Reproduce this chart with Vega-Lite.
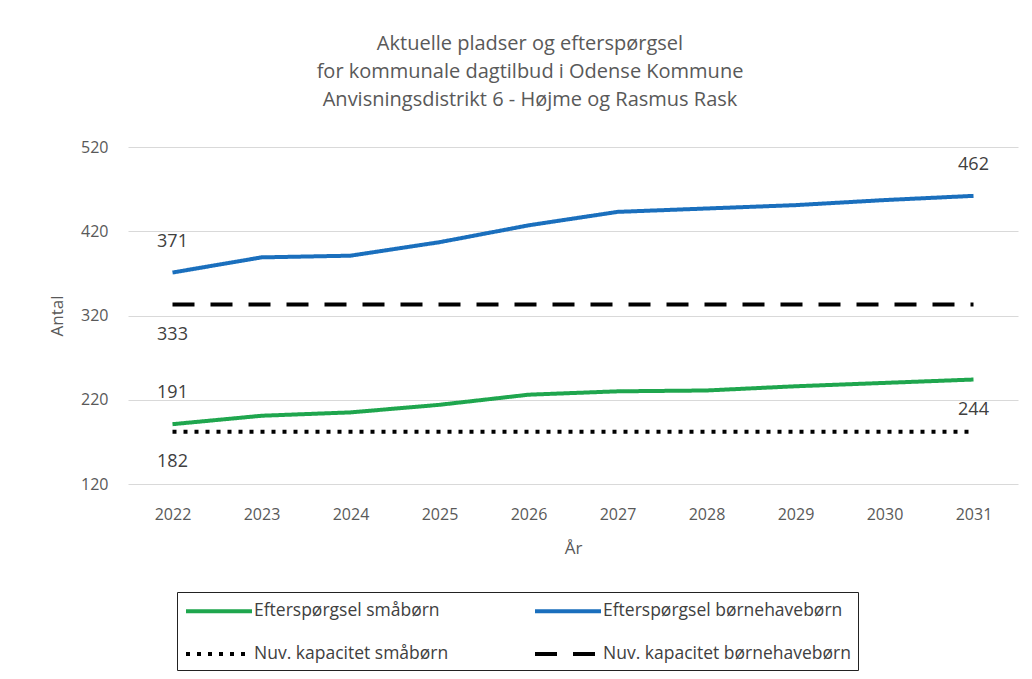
{
  "$schema": "https://vega.github.io/schema/vega-lite/v6.json",
  "width": 890,
  "height": 337,
  "autosize": "none",
  "padding": {"left": 128, "top": 147, "right": 14, "bottom": 195},
  "background": "white",
  "config": {"font": "Open Sans", "view": {"stroke": null}},
  "title": {
    "text": ["Aktuelle pladser og efterspørgsel", "for kommunale dagtilbud i Odense Kommune", "Anvisningsdistrikt 6 - Højme og Rasmus Rask"],
    "fontSize": 20, "fontWeight": "normal", "color": "#595959", "lineHeight": 28,
    "offset": 29, "dx": -43, "anchor": "middle"
  },
  "data": {"values": [
    {"year": 2022, "series": "Efterspørgsel børnehavebørn", "value": 371},
    {"year": 2023, "series": "Efterspørgsel børnehavebørn", "value": 389},
    {"year": 2024, "series": "Efterspørgsel børnehavebørn", "value": 391},
    {"year": 2025, "series": "Efterspørgsel børnehavebørn", "value": 407},
    {"year": 2026, "series": "Efterspørgsel børnehavebørn", "value": 427},
    {"year": 2027, "series": "Efterspørgsel børnehavebørn", "value": 443},
    {"year": 2028, "series": "Efterspørgsel børnehavebørn", "value": 447},
    {"year": 2029, "series": "Efterspørgsel børnehavebørn", "value": 451},
    {"year": 2030, "series": "Efterspørgsel børnehavebørn", "value": 457},
    {"year": 2031, "series": "Efterspørgsel børnehavebørn", "value": 462},
    {"year": 2022, "series": "Efterspørgsel småbørn", "value": 191},
    {"year": 2023, "series": "Efterspørgsel småbørn", "value": 201},
    {"year": 2024, "series": "Efterspørgsel småbørn", "value": 205},
    {"year": 2025, "series": "Efterspørgsel småbørn", "value": 214},
    {"year": 2026, "series": "Efterspørgsel småbørn", "value": 226},
    {"year": 2027, "series": "Efterspørgsel småbørn", "value": 230},
    {"year": 2028, "series": "Efterspørgsel småbørn", "value": 231},
    {"year": 2029, "series": "Efterspørgsel småbørn", "value": 236},
    {"year": 2030, "series": "Efterspørgsel småbørn", "value": 240},
    {"year": 2031, "series": "Efterspørgsel småbørn", "value": 244},
    {"year": 2022, "series": "Nuv. kapacitet børnehavebørn", "value": 333},
    {"year": 2023, "series": "Nuv. kapacitet børnehavebørn", "value": 333},
    {"year": 2024, "series": "Nuv. kapacitet børnehavebørn", "value": 333},
    {"year": 2025, "series": "Nuv. kapacitet børnehavebørn", "value": 333},
    {"year": 2026, "series": "Nuv. kapacitet børnehavebørn", "value": 333},
    {"year": 2027, "series": "Nuv. kapacitet børnehavebørn", "value": 333},
    {"year": 2028, "series": "Nuv. kapacitet børnehavebørn", "value": 333},
    {"year": 2029, "series": "Nuv. kapacitet børnehavebørn", "value": 333},
    {"year": 2030, "series": "Nuv. kapacitet børnehavebørn", "value": 333},
    {"year": 2031, "series": "Nuv. kapacitet børnehavebørn", "value": 333},
    {"year": 2022, "series": "Nuv. kapacitet småbørn", "value": 182},
    {"year": 2023, "series": "Nuv. kapacitet småbørn", "value": 182},
    {"year": 2024, "series": "Nuv. kapacitet småbørn", "value": 182},
    {"year": 2025, "series": "Nuv. kapacitet småbørn", "value": 182},
    {"year": 2026, "series": "Nuv. kapacitet småbørn", "value": 182},
    {"year": 2027, "series": "Nuv. kapacitet småbørn", "value": 182},
    {"year": 2028, "series": "Nuv. kapacitet småbørn", "value": 182},
    {"year": 2029, "series": "Nuv. kapacitet småbørn", "value": 182},
    {"year": 2030, "series": "Nuv. kapacitet småbørn", "value": 182},
    {"year": 2031, "series": "Nuv. kapacitet småbørn", "value": 182}
  ]},
  "encoding": {
    "x": {
      "field": "year", "type": "ordinal", "title": "År",
      "scale": {"type": "point", "padding": 0.5},
      "axis": {"labelAngle": 0, "domain": false, "ticks": false, "labelPadding": 22, "labelFontSize": 16, "labelColor": "#595959", "titleFontSize": 17, "titleFontWeight": "normal", "titleColor": "#595959", "titlePadding": 18}
    },
    "y": {
      "field": "value", "type": "quantitative", "title": "Antal",
      "scale": {"domain": [120, 520], "nice": false, "zero": false},
      "axis": {"values": [120, 220, 320, 420, 520], "domain": false, "ticks": false, "gridColor": "#d9d9d9", "labelFontSize": 16, "labelColor": "#595959", "labelPadding": 20, "titleFontSize": 17, "titleFontWeight": "normal", "titleColor": "#595959", "titlePadding": 14}
    }
  },
  "layer": [
    {
      "mark": {"type": "line", "strokeWidth": 4, "strokeCap": "butt"},
      "encoding": {
        "color": {
          "field": "series", "type": "nominal",
          "scale": {"domain": ["Efterspørgsel småbørn", "Nuv. kapacitet småbørn", "Efterspørgsel børnehavebørn", "Nuv. kapacitet børnehavebørn"], "range": ["#1fa64e", "#000000", "#1a6fbd", "#000000"]},
          "legend": {"orient": "none", "legendX": 49, "legendY": 445, "columns": 2, "title": null, "symbolType": "M-1,0H5.6", "symbolSize": 400, "symbolStrokeWidth": 4, "labelFontSize": 17.5, "labelColor": "#404040", "columnPadding": 78, "rowPadding": 22, "padding": 7, "strokeColor": "#222222", "labelLimit": 400, "labelOffset": 46}
        },
        "strokeDash": {
          "field": "series", "type": "nominal",
          "scale": {"domain": ["Efterspørgsel småbørn", "Nuv. kapacitet småbørn", "Efterspørgsel børnehavebørn", "Nuv. kapacitet børnehavebørn"], "range": [[1, 0], [4, 7], [1, 0], [22, 16]]}
        }
      }
    },
    {
      "transform": [{"filter": "(datum.series == 'Efterspørgsel børnehavebørn' && (datum.year == 2022 || datum.year == 2031)) || (datum.series == 'Efterspørgsel småbørn' && datum.year == 2022)"}],
      "mark": {"type": "text", "dy": -31, "fontSize": 18, "color": "#404040"},
      "encoding": {"text": {"field": "value", "type": "quantitative"}}
    },
    {
      "transform": [{"filter": "(datum.series == 'Efterspørgsel småbørn' && datum.year == 2031) || (datum.year == 2022 && indexof(datum.series, 'Nuv.') == 0)"}],
      "mark": {"type": "text", "dy": 30, "fontSize": 18, "color": "#404040"},
      "encoding": {"text": {"field": "value", "type": "quantitative"}}
    }
  ]
}
